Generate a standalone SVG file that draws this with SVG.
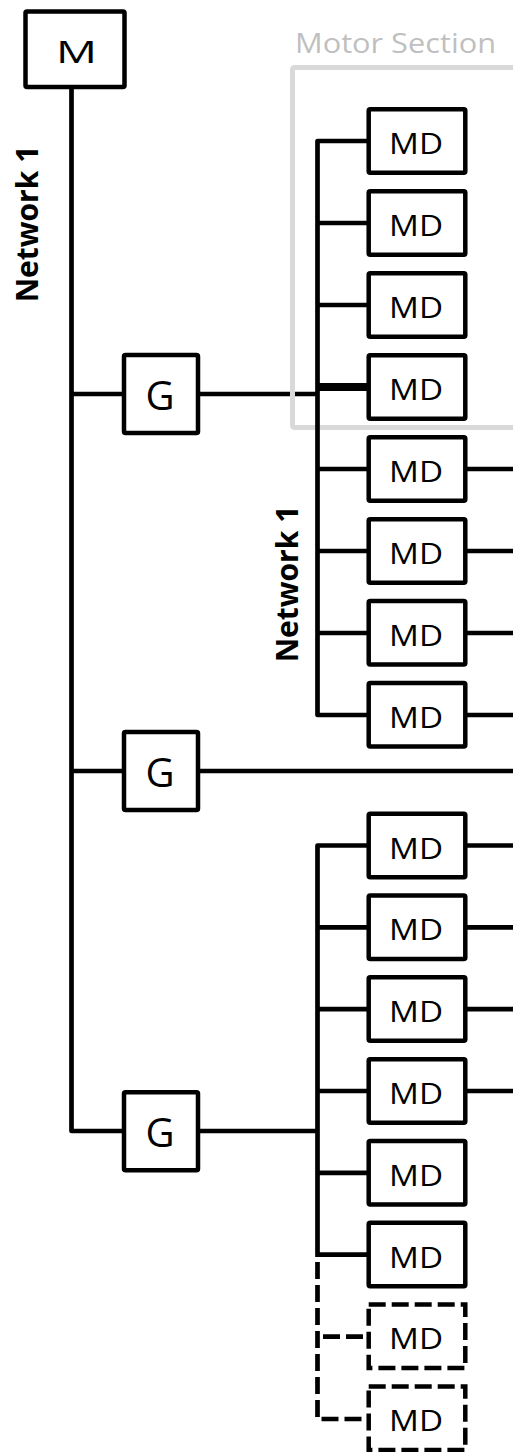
<svg xmlns="http://www.w3.org/2000/svg" width="513" height="1452" viewBox="0 0 513 1452">
<style>
.box{fill:#fff;stroke:#000;stroke-width:4.5;stroke-linejoin:round}
.dbox{fill:#fff;stroke:#000;stroke-width:4.5;stroke-dasharray:17 6}
.ln{fill:none;stroke:#000;stroke-width:4.7;stroke-linejoin:round}
.dln{fill:none;stroke:#000;stroke-width:4.7;stroke-dasharray:17 6}
.lbl{font-family:"Open Sans","Noto Sans",sans-serif;font-size:29px;fill:#000;text-anchor:middle}
.g{font-size:40px}
.m{font-size:31px}
.net{font-family:"Open Sans","Noto Sans",sans-serif;font-size:30px;font-weight:bold;fill:#000;text-anchor:middle}
</style>
<rect width="513" height="1452" fill="#fff"/>
<g id="connectors">
<path class="ln" d="M71.5 89 V1131 H124"/>
<path class="ln" d="M71.5 394 H124"/>
<path class="ln" d="M71.5 771 H124"/>
<path class="ln" d="M198 394 H317.5"/>
<path class="ln" d="M198 771 H513"/>
<path class="ln" d="M198 1131 H317.5"/>
</g>
<g id="motor-section">
<rect x="292.5" y="67.5" width="260" height="360" rx="2" fill="none" stroke="#d9d9d9" stroke-width="5"/>
<text x="295" y="52.7" font-family="'Open Sans','Noto Sans',sans-serif" font-size="27" fill="#bfbfbf" textLength="201" lengthAdjust="spacingAndGlyphs">Motor Section</text>
</g>
<g id="bus-connectors">
<path class="ln" d="M368.7 141 H317.5 V715 H368.7"/>
<path class="ln" d="M317.5 223 H368.7 M317.5 305 H368.7 M317.5 469 H368.7 M317.5 551 H368.7 M317.5 633 H368.7"/>
<path class="ln" d="M317.5 387 H368.7" style="stroke-width:8"/>
<path class="ln" d="M465 469 H513 M465 551 H513 M465 633 H513 M465 715 H513"/>
<path class="ln" d="M368.7 845.5 H317.5 V1257"/>
<path class="ln" d="M317.5 927.3 H368.7 M317.5 1009.2 H368.7 M317.5 1091 H368.7 M317.5 1172.8 H368.7 M317.5 1254.6 H368.7"/>
<path class="ln" d="M465 845.5 H513 M465 927.3 H513 M465 1009.2 H513 M465 1091 H513"/>
<path class="dln" d="M317.5 1262 V1419 H368.7"/>
<path class="dln" d="M323 1336.6 H366"/>
</g>
<g id="label-network1-left"><text class="net" transform="translate(37.5,224) rotate(-90)">Network 1</text></g>
<g id="label-network1-right"><text class="net" transform="translate(298,584) rotate(-90)">Network 1</text></g>
<g id="node-M"><rect class="box" x="25.5" y="11.5" width="99" height="75.5" rx="1.5"/><text class="lbl m" x="76.5" y="63.3" textLength="41" lengthAdjust="spacingAndGlyphs">M</text></g>
<g id="node-G1"><rect class="box" x="124" y="355" width="74" height="78" rx="1.5"/><text class="lbl g" x="160" y="409.5">G</text></g>
<g id="node-G2"><rect class="box" x="124" y="732" width="74" height="78" rx="1.5"/><text class="lbl g" x="160" y="786.5">G</text></g>
<g id="node-G3"><rect class="box" x="124" y="1092.3" width="74" height="78" rx="1.5"/><text class="lbl g" x="160" y="1146.8">G</text></g>
<g id="node-MD1"><rect class="box" x="368.7" y="109.3" width="96.6" height="63.5" rx="1.5"/><text class="lbl" x="416" y="154" textLength="54" lengthAdjust="spacingAndGlyphs">MD</text></g>
<g id="node-MD2"><rect class="box" x="368.7" y="191.3" width="96.6" height="63.5" rx="1.5"/><text class="lbl" x="416" y="236" textLength="54" lengthAdjust="spacingAndGlyphs">MD</text></g>
<g id="node-MD3"><rect class="box" x="368.7" y="273.3" width="96.6" height="63.5" rx="1.5"/><text class="lbl" x="416" y="318" textLength="54" lengthAdjust="spacingAndGlyphs">MD</text></g>
<g id="node-MD4"><rect class="box" x="368.7" y="355.3" width="96.6" height="63.5" rx="1.5"/><text class="lbl" x="416" y="400" textLength="54" lengthAdjust="spacingAndGlyphs">MD</text></g>
<g id="node-MD5"><rect class="box" x="368.7" y="437.3" width="96.6" height="63.5" rx="1.5"/><text class="lbl" x="416" y="482" textLength="54" lengthAdjust="spacingAndGlyphs">MD</text></g>
<g id="node-MD6"><rect class="box" x="368.7" y="519.2" width="96.6" height="63.5" rx="1.5"/><text class="lbl" x="416" y="564" textLength="54" lengthAdjust="spacingAndGlyphs">MD</text></g>
<g id="node-MD7"><rect class="box" x="368.7" y="601.1" width="96.6" height="63.5" rx="1.5"/><text class="lbl" x="416" y="646" textLength="54" lengthAdjust="spacingAndGlyphs">MD</text></g>
<g id="node-MD8"><rect class="box" x="368.7" y="683" width="96.6" height="63.5" rx="1.5"/><text class="lbl" x="416" y="728" textLength="54" lengthAdjust="spacingAndGlyphs">MD</text></g>
<g id="node-MD9"><rect class="box" x="368.7" y="813.7" width="96.6" height="63.5" rx="1.5"/><text class="lbl" x="416" y="858.5" textLength="54" lengthAdjust="spacingAndGlyphs">MD</text></g>
<g id="node-MD10"><rect class="box" x="368.7" y="895.5" width="96.6" height="63.5" rx="1.5"/><text class="lbl" x="416" y="940.3" textLength="54" lengthAdjust="spacingAndGlyphs">MD</text></g>
<g id="node-MD11"><rect class="box" x="368.7" y="977.3" width="96.6" height="63.5" rx="1.5"/><text class="lbl" x="416" y="1022.2" textLength="54" lengthAdjust="spacingAndGlyphs">MD</text></g>
<g id="node-MD12"><rect class="box" x="368.7" y="1059.2" width="96.6" height="63.5" rx="1.5"/><text class="lbl" x="416" y="1104" textLength="54" lengthAdjust="spacingAndGlyphs">MD</text></g>
<g id="node-MD13"><rect class="box" x="368.7" y="1141" width="96.6" height="63.5" rx="1.5"/><text class="lbl" x="416" y="1185.8" textLength="54" lengthAdjust="spacingAndGlyphs">MD</text></g>
<g id="node-MD14"><rect class="box" x="368.7" y="1222.8" width="96.6" height="63.5" rx="1.5"/><text class="lbl" x="416" y="1267.6" textLength="54" lengthAdjust="spacingAndGlyphs">MD</text></g>
<g id="node-MD15"><rect class="dbox" x="368.7" y="1304.6" width="96.6" height="63.5"/><text class="lbl" x="416" y="1349.4" textLength="54" lengthAdjust="spacingAndGlyphs">MD</text></g>
<g id="node-MD16"><rect class="dbox" x="368.7" y="1386.4" width="96.6" height="63.5"/><text class="lbl" x="416" y="1431.2" textLength="54" lengthAdjust="spacingAndGlyphs">MD</text></g>
</svg>
